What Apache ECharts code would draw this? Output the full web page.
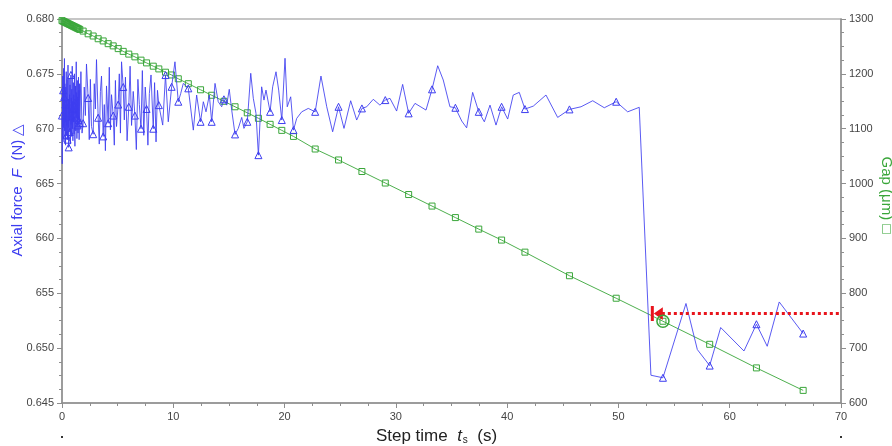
<!DOCTYPE html>
<html>
<head>
<meta charset="utf-8">
<script src="https://cdn.jsdelivr.net/npm/echarts@6/dist/echarts.min.js"></script>
<style>
  html, body { margin: 0; padding: 0; background: #fff; }
  #chart { width: 892px; height: 446px; }
</style>
</head>
<body>
<div id="chart"></div>
<script>
// Axial force record (N), sampled densely; triangles mark the gap-sample instants.
const forceTime = [
  0.00,0.02,0.04,0.06,0.08,0.10,0.12,0.14,0.16,0.18,0.20,0.22,0.24,0.26,0.28,0.30,0.32,0.34,0.36,0.38,
  0.40,0.42,0.44,0.46,0.48,0.50,0.52,0.54,0.56,0.58,0.60,0.62,0.64,0.66,0.68,0.70,0.72,0.74,0.76,0.78,
  0.80,0.82,0.84,0.86,0.88,0.90,0.92,0.94,0.96,0.98,1.00,1.02,1.04,1.06,1.08,1.10,1.12,1.14,1.16,1.18,
  1.20,1.22,1.24,1.26,1.28,1.30,1.32,1.34,1.36,1.38,1.40,1.42,1.44,1.46,1.48,1.50,1.52,1.54,1.56,1.58,
  1.60,1.70,1.80,1.90,2.00,2.10,2.20,2.35,2.45,2.55,2.65,2.80,2.90,3.00,3.10,3.25,3.35,3.45,3.55,3.70,
  3.80,3.90,4.00,4.15,4.25,4.35,4.45,4.60,4.70,4.80,4.90,5.05,5.15,5.25,5.35,5.50,5.60,5.70,5.85,6.00,
  6.12,6.25,6.40,6.55,6.68,6.82,6.95,7.10,7.22,7.35,7.48,7.60,7.72,7.85,8.00,8.20,8.32,8.45,8.58,8.70,
  9.05,9.30,9.55,9.85,10.15,10.45,10.67,10.90,11.35,11.80,12.10,12.45,12.70,12.94,13.24,13.45,13.75,14.04,14.35,14.55,
  14.80,15.03,15.25,15.55,15.84,16.15,16.35,16.65,16.96,17.19,17.43,17.65,17.94,18.15,18.33,18.70,18.93,19.23,19.47,19.75,
  20.04,20.24,20.55,20.80,21.09,21.54,22.13,22.75,23.27,23.79,24.32,24.85,25.34,25.94,26.48,26.95,27.38,27.97,28.57,29.05,
  29.47,30.07,30.61,31.15,31.72,32.71,33.25,33.76,34.26,34.86,35.35,35.92,36.36,36.90,37.45,37.95,38.46,39.00,39.50,40.05,
  40.55,41.09,41.60,42.35,43.49,44.54,45.60,46.64,47.69,48.73,49.80,50.83,51.87,52.92,54.00,56.07,57.09,58.20,59.19,61.28,
  62.40,63.37,64.45,66.60
];
const forceValue = [
  0.6712,0.6668,0.6705,0.6748,0.6692,0.6735,0.6701,0.6755,0.6712,0.6688,0.6729,0.6764,0.6698,0.6741,0.6706,0.6722,0.6685,0.6738,0.6711,0.6752,
  0.6694,0.6726,0.6703,0.6745,0.6719,0.6690,0.6733,0.6758,0.6701,0.6727,0.6683,0.6714,0.6746,0.6708,0.6731,0.6697,0.6740,0.6716,0.6686,0.6723,
  0.6749,0.6704,0.6728,0.6693,0.6736,0.6711,0.6757,0.6700,0.6725,0.6689,0.6718,0.6742,0.6706,0.6731,0.6695,0.6721,0.6750,0.6709,0.6684,0.6727,
  0.6713,0.6739,0.6698,0.6724,0.6761,0.6710,0.6733,0.6691,0.6719,0.6744,0.6703,0.6729,0.6696,0.6722,0.6747,0.6708,0.6735,0.6690,0.6716,0.6741,
  0.6705,0.6752,0.6696,0.6705,0.6738,0.6712,0.6759,0.6728,0.6690,0.6745,0.6702,0.6695,0.6741,0.6718,0.6763,0.6710,0.6686,0.6734,0.6748,0.6693,
  0.6722,0.6680,0.6739,0.6705,0.6756,0.6699,0.6731,0.6712,0.6685,0.6744,0.6702,0.6722,0.6750,0.6696,0.6761,0.6738,0.6708,0.6747,0.6689,0.6720,
  0.6757,0.6703,0.6734,0.6712,0.6681,0.6745,0.6722,0.6700,0.6753,0.6694,0.6738,0.6718,0.6685,0.6732,0.6749,0.6700,0.6742,0.6688,0.6735,0.67215,
  0.67033,0.67489,0.67063,0.67382,0.67610,0.67246,0.67322,0.67413,0.67368,0.66987,0.67307,0.67063,0.67246,0.67154,0.67307,0.67063,0.67413,0.67246,0.67200,0.67268,
  0.67215,0.67359,0.67170,0.66948,0.67003,0.67103,0.67003,0.67063,0.67505,0.67277,0.67140,0.66759,0.67382,0.67261,0.67352,0.67154,0.67382,0.67519,0.67352,0.67079,
  0.67642,0.67200,0.67291,0.66987,0.67094,0.67154,0.67185,0.67154,0.67480,0.67200,0.66972,0.67200,0.67003,0.67255,0.67079,0.67185,0.67200,0.67268,0.67215,0.67261,
  0.67277,0.67161,0.67404,0.67140,0.67231,0.67170,0.67359,0.67574,0.67444,0.67200,0.67191,0.67070,0.67008,0.67331,0.67154,0.67063,0.67215,0.67033,0.67200,0.67088,
  0.67307,0.67331,0.67179,0.67206,0.67307,0.67103,0.67176,0.67200,0.67255,0.67191,0.67246,0.67154,0.67195,0.64753,0.64730,0.65407,0.64987,0.64841,0.65188,0.64974,
  0.65218,0.65017,0.65421,0.65133
];

// Gap record (µm)
const gapTime = [
  0.0,0.1,0.2,0.3,0.4,0.5,0.6,0.7,0.8,0.9,1.0,1.1,1.2,1.3,1.4,1.5,1.6,
  1.9,2.35,2.8,3.25,3.7,4.15,4.6,5.05,5.5,6.0,6.55,7.1,7.6,8.2,8.7,9.3,9.85,10.45,
  11.35,12.45,13.45,14.55,15.55,16.65,17.65,18.7,19.75,20.8,
  22.75,24.85,26.95,29.05,31.15,33.25,35.35,37.45,39.5,41.6,
  45.6,49.8,54.0,58.2,62.4,66.6
];
const gapValue = [
  1297,1296,1295,1294,1293,1292,1291,1290,1289,1288,1287,1286,1285,1284,1283,1282,1281,
  1278,1273,1269,1264,1260,1255,1251,1246,1241,1236,1231,1225,1220,1214,1209,1203,1198,1191,
  1182,1171,1161,1150,1140,1129,1119,1108,1097,1086,
  1063,1043,1022,1001,980,959,938,917,897,875,
  832,791,749,707,664,623
];

// Left-axis tick labels as printed
const forceTicks = [0.645, 0.650, 0.655, 0.660, 0.665, 0.670, 0.675, 0.680];
const forceTickLabels = ['0.645', '0.650', '655', '660', '665', '670', '0.675', '0.680'];

// Gap level pointed at by the red arrow, and the circled gap sample
const arrowGap = 763;
const arrowFrom = 53.45;
const circledTime = 54.0;
const circledGap = 749;

const BLUE = '#3d3df0';
const GREEN = '#3aa63a';
const RED = '#e8141c';
const AXIS = '#8e8e8e';
const FONT = '"Liberation Sans", Arial, sans-serif';
const NARROW = '"Liberation Sans Narrow", "Liberation Sans", sans-serif';

const markedTimes = new Set(gapTime.map(t => Math.round(t * 100)));
const forceData = forceTime.map((t, i) => ({
  value: [t, forceValue[i]],
  symbol: markedTimes.has(Math.round(t * 100)) ? 'triangle' : 'none'
}));
const gapData = gapTime.map((t, i) => [t, gapValue[i]]);

const chart = echarts.init(document.getElementById('chart'), null, { renderer: 'canvas' });

const tickLabelStyle = { color: '#454545', fontSize: 11, fontFamily: NARROW };

chart.setOption({
  animation: false,
  backgroundColor: '#fff',
  grid: {
    left: 62, right: 51, top: 19, bottom: 43,
    containLabel: false, outerBoundsMode: 'none',
    show: true, borderColor: '#b4b4b4', borderWidth: 1.5
  },
  xAxis: {
    type: 'value', min: 0, max: 70, interval: 10,
    name: 'Step time  {i|t}{s|s}  (s)',
    nameLocation: 'middle', nameGap: 24, nameMoveOverlap: false,
    nameTextStyle: {
      color: '#222', fontSize: 17, fontFamily: FONT, padding: [0, 30, 0, 0],
      rich: {
        i: { color: '#222', fontSize: 17, fontFamily: FONT, fontStyle: 'italic' },
        s: { color: '#222', fontSize: 10, fontFamily: FONT, padding: [8, 0, 0, 1] }
      }
    },
    axisLine: { onZero: false, lineStyle: { color: AXIS, width: 1.5 } },
    axisTick: { length: 5, lineStyle: { color: AXIS } },
    minorTick: { show: true, splitNumber: 4, length: 3, lineStyle: { color: AXIS } },
    axisLabel: Object.assign({ margin: 8 }, tickLabelStyle),
    splitLine: { show: false }
  },
  yAxis: [
    {
      type: 'value', min: 0.645, max: 0.680, interval: 0.005, position: 'left',
      name: 'Axial force  {i|F}  (N) △',
      nameLocation: 'middle', nameGap: 37, nameRotate: 90, nameMoveOverlap: false,
      nameTextStyle: {
        color: BLUE, fontSize: 15, fontFamily: FONT, padding: [0, 0, 0, 42],
        rich: { i: { color: BLUE, fontSize: 15, fontFamily: FONT, fontStyle: 'italic' } }
      },
      axisLine: { show: true, onZero: false, lineStyle: { color: AXIS, width: 1.5 } },
      axisTick: { show: true, length: 5, lineStyle: { color: AXIS } },
      minorTick: { show: true, splitNumber: 4, length: 3, lineStyle: { color: AXIS } },
      axisLabel: Object.assign({
        margin: 8,
        formatter: v => {
          const k = forceTicks.findIndex(x => Math.abs(x - v) < 1e-6);
          return k >= 0 ? forceTickLabels[k] : '';
        }
      }, tickLabelStyle),
      splitLine: { show: false }
    },
    {
      type: 'value', min: 600, max: 1300, interval: 100, position: 'right',
      name: 'Gap (μm) □',
      nameLocation: 'middle', nameGap: 38, nameRotate: -90, nameMoveOverlap: false,
      nameTextStyle: { color: GREEN, fontSize: 15, fontFamily: FONT, backgroundColor: '#fff', padding: [0, 32, 0, 0] },
      axisLine: { show: true, onZero: false, lineStyle: { color: AXIS, width: 1.5 } },
      axisTick: { show: true, length: 5, lineStyle: { color: AXIS } },
      minorTick: { show: true, splitNumber: 4, length: 3, lineStyle: { color: AXIS } },
      axisLabel: Object.assign({ margin: 8, formatter: v => String(v) }, tickLabelStyle),
      splitLine: { show: false }
    }
  ],
  series: [
    {
      name: 'Axial force',
      type: 'line',
      yAxisIndex: 0,
      data: forceData,
      showSymbol: true,
      symbolSize: 7,
      lineStyle: { color: BLUE, width: 1, opacity: 0.85 },
      itemStyle: { color: 'rgba(255,255,255,0)', borderColor: BLUE, borderWidth: 1 },
      emphasis: { disabled: true },
      z: 3
    },
    {
      name: 'Gap',
      type: 'line',
      yAxisIndex: 1,
      data: gapData,
      symbol: 'rect',
      symbolSize: 6,
      showSymbol: true,
      lineStyle: { color: GREEN, width: 1, opacity: 0.9 },
      itemStyle: { color: 'rgba(255,255,255,0)', borderColor: GREEN, borderWidth: 1 },
      emphasis: { disabled: true },
      z: 2,
      markLine: {
        silent: true,
        symbol: 'none',
        label: { show: false },
        lineStyle: { color: RED, width: 3, type: [3, 3], opacity: 1 },
        data: [[{ coord: [arrowFrom + 0.45, arrowGap] }, { coord: [70, arrowGap] }]]
      },
      markPoint: {
        silent: true,
        label: { show: false },
        data: [
          {
            coord: [arrowFrom, arrowGap],
            symbol: 'path://M0,0 L3,0 L3,7 L12,1 L12,13 L3,7 L3,14 L0,14 Z',
            symbolSize: [12, 15],
            itemStyle: { color: RED, borderWidth: 0 }
          },
          {
            coord: [circledTime, circledGap],
            symbol: 'circle',
            symbolSize: 12,
            itemStyle: { color: 'rgba(255,255,255,0)', borderColor: GREEN, borderWidth: 1.5 }
          }
        ]
      }
    }
  ],
  graphic: [
    { type: 'rect', left: 61, top: 436, shape: { width: 2, height: 2 }, style: { fill: '#333' } },
    { type: 'rect', left: 840, top: 436, shape: { width: 2, height: 2 }, style: { fill: '#333' } }
  ]
});
</script>
</body>
</html>
